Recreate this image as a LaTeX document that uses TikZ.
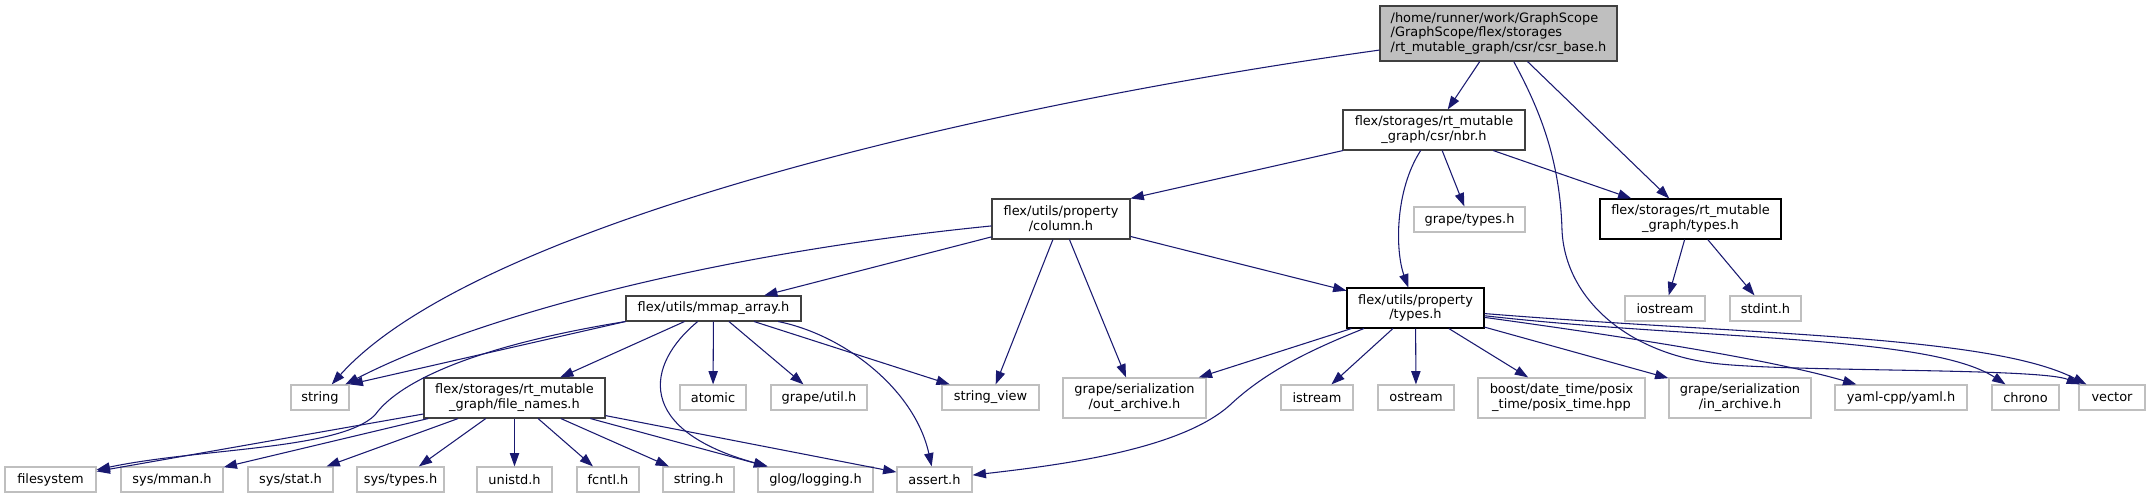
\documentclass[tikz,border=0pt]{standalone}
\usepackage{fontspec}
\setmainfont{DejaVu Sans}
\usepackage{xcolor}
\usepackage{tikz}
\usetikzlibrary{arrows.meta}
\definecolor{edgeblue}{HTML}{191970}
\definecolor{docgray}{HTML}{404040}
\definecolor{extgray}{HTML}{BFBFBF}
\definecolor{rootgray}{HTML}{BFBFBF}
\newcommand{\px}{0.75pt}
\tikzset{
	hdr/.style={draw=docgray, line width=0.8pt, minimum height=40*\px},
	sys/.style={draw=extgray, line width=0.9pt, minimum height=25*\px},
	one/.style={minimum height=25*\px},
	dep/.style={draw=edgeblue, line width=0.8pt, -{Triangle[length=10pt, width=7pt]}}
}

\begin{document}
\begin{tikzpicture}[x=0.75pt, y=-0.75pt,
	every node/.style={inner sep=0pt, align=center, font=\fontsize{9.7}{11.1}\selectfont}]
	\useasboundingbox (0, 0) rectangle (2151, 499);
	% Nodes and dependencies:
	\node[hdr, minimum width=237*\px, minimum height=55*\px, fill=rootgray, align=left](N1) at (1498.5, 33.5){/home/runner/work/GraphScope\\/GraphScope/flex/storages\\/rt\_mutable\_graph/csr/csr\_base.h};
	\node[hdr, minimum width=182*\px](N2) at (1434, 130){flex/storages/rt\_mutable\\\_graph/csr/nbr.h};
	\node[hdr, minimum width=138*\px](N3) at (1061, 219){flex/utils/property\\/column.h};
	\node[sys, minimum width=111*\px](N4) at (1469.5, 219.5){grape/types.h};
	\node[hdr, minimum width=181*\px, draw=black](N5) at (1690.5, 219){flex/storages/rt\_mutable\\\_graph/types.h};
	\node[hdr, one, minimum width=175*\px](N6) at (713.5, 308.5){flex/utils/mmap\_array.h};
	\node[hdr, minimum width=137*\px, draw=black](N7) at (1415.5, 308){flex/utils/property\\/types.h};
	\node[sys, minimum width=80*\px](N8) at (1665, 308.5){iostream};
	\node[sys, minimum width=71*\px](N9) at (1765.5, 308.5){stdint.h};
	\node[sys, minimum width=58*\px](N10) at (320, 397.5){string};
	\node[hdr, minimum width=181*\px](N11) at (514.5, 398){flex/storages/rt\_mutable\\\_graph/file\_names.h};
	\node[sys, minimum width=66*\px](N12) at (713, 397.5){atomic};
	\node[sys, minimum width=96*\px](N13) at (819, 397.5){grape/util.h};
	\node[sys, minimum width=97*\px](N14) at (990.5, 397.5){string\_view};
	\node[sys, minimum width=143*\px, minimum height=40*\px](N15) at (1134.5, 398){grape/serialization\\/out\_archive.h};
	\node[sys, minimum width=72*\px](N16) at (1317, 397.5){istream};
	\node[sys, minimum width=76*\px](N17) at (1416, 397.5){ostream};
	\node[sys, minimum width=167*\px, minimum height=40*\px](N18) at (1561.5, 398){boost/date\_time/posix\\\_time/posix\_time.hpp};
	\node[sys, minimum width=142*\px, minimum height=40*\px](N19) at (1740, 398){grape/serialization\\/in\_archive.h};
	\node[sys, minimum width=132*\px](N20) at (1901, 397.5){yaml-cpp/yaml.h};
	\node[sys, minimum width=67*\px](N21) at (2025.5, 397.5){chrono};
	\node[sys, minimum width=66*\px](N22) at (2112, 397.5){vector};
	\node[sys, minimum width=91*\px](N23) at (50.5, 479.5){filesystem};
	\node[sys, minimum width=102*\px](N24) at (172, 479.5){sys/mman.h};
	\node[sys, minimum width=85*\px](N25) at (290.5, 479.5){sys/stat.h};
	\node[sys, minimum width=87*\px](N26) at (400.5, 479.5){sys/types.h};
	\node[sys, minimum width=75*\px](N27) at (514.5, 479.5){unistd.h};
	\node[sys, minimum width=62*\px](N28) at (608, 479.5){fcntl.h};
	\node[sys, minimum width=71*\px](N29) at (698.5, 479.5){string.h};
	\node[sys, minimum width=115*\px](N30) at (815.5, 479.5){glog/logging.h};
	\node[sys, minimum width=75*\px](N31) at (934.5, 479.5){assert.h};
	\draw[dep] (N1) .. controls (950, 110) and (470, 230) .. (N10);
	\draw[dep] (N1) -- (N2);
	\draw[dep] (N1) -- (N5);
	\draw[dep] (N1) .. controls (1540, 110) and (1560, 160) .. (1562, 230) .. controls (1565, 300) and (1630, 355) .. (1720, 364) .. controls (1800, 372) and (2040, 368) .. (N22);
	\draw[dep] (N2) -- (N3.north east);
	\draw[dep] (N2) -- (N4);
	\draw[dep] (N2) .. controls (1395, 190) and (1395, 250) .. (N7);
	\draw[dep] (N2) -- (N5);
	\draw[dep] (N3) .. controls (700, 255) and (470, 320) .. (N10);
	\draw[dep] (N3) -- (N6);
	\draw[dep] (N3) -- (N14);
	\draw[dep] (N3) -- (N15);
	\draw[dep] (N3) -- (N7);
	\draw[dep] (N6.south west) -- (N10.north east);
	\draw[dep] (N6.south west) .. controls (480, 345) and (400, 380) .. (375, 415) .. controls (340, 450) and (200, 448) .. (N23);
	\draw[dep] (N6) -- (N11);
	\draw[dep] (N6) -- (N12);
	\draw[dep] (N6) -- (N13);
	\draw[dep] (N6) .. controls (645, 365) and (635, 430) .. (N30);
	\draw[dep] (N6) -- (N14);
	\draw[dep] (N6) .. controls (845, 335) and (915, 390) .. (N31);
	\draw[dep] (N11) -- (N23);
	\draw[dep] (N11) -- (N24);
	\draw[dep] (N11) -- (N25);
	\draw[dep] (N11) -- (N26);
	\draw[dep] (N11) -- (N27);
	\draw[dep] (N11) -- (N28);
	\draw[dep] (N11) -- (N29);
	\draw[dep] (N11) -- (N30);
	\draw[dep] (N11) -- (N31);
	\draw[dep] (N7) -- (N15);
	\draw[dep] (N7) .. controls (1310, 350) and (1265, 372) .. (1230, 405) .. controls (1180, 450) and (1060, 465) .. (N31);
	\draw[dep] (N7) -- (N16);
	\draw[dep] (N7) -- (N17);
	\draw[dep] (N7) -- (N18);
	\draw[dep] (N7) -- (N19);
	\draw[dep] (N7) .. controls (1650, 340) and (1780, 362) .. (N20);
	\draw[dep] (N7) .. controls (1700, 340) and (1930, 335) .. (N21);
	\draw[dep] (N7) .. controls (1750, 335) and (1990, 335) .. (N22);
	\draw[dep] (N5) -- (N8);
	\draw[dep] (N5) -- (N9);
\end{tikzpicture}
\end{document}
